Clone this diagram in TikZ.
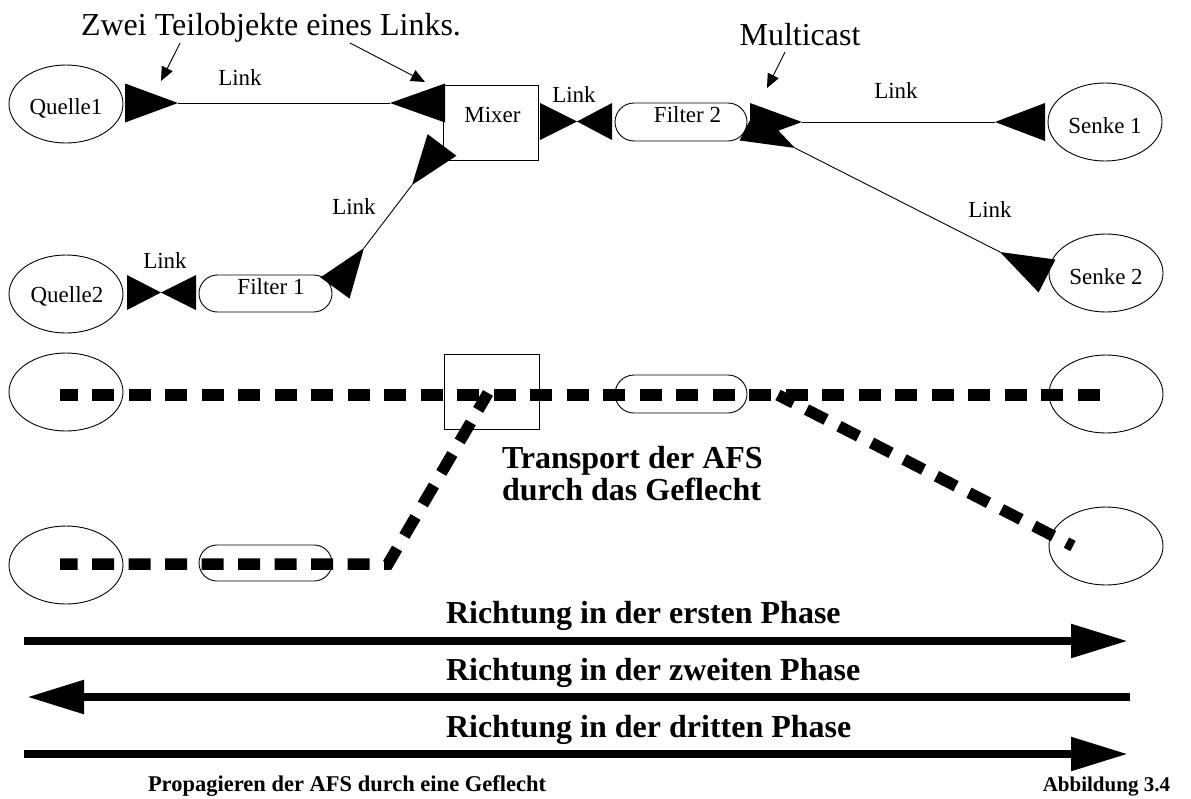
\documentclass[tikz,border=0pt]{standalone}
\usepackage{fontspec}
\setmainfont{Liberation Serif}
\usetikzlibrary{shapes.geometric,shapes.misc,arrows.meta,calc}

% filled triangle: base centre #1, tip #2, half base width #3
\newcommand\teil[3]{\fill ($(#1)!#3!90:(#2)$) -- (#2) -- ($(#1)!#3!-90:(#2)$) -- cycle;}

\begin{document}
\begin{tikzpicture}[x=1pt,y=-1pt,
  every node/.style={inner sep=0pt, outer sep=0pt},
  lbl/.style={font=\fontsize{23}{27}\selectfont, anchor=base},
  big/.style={font=\fontsize{32}{36}\selectfont, anchor=base},
  bigbf/.style={font=\fontsize{32}{36}\selectfont\bfseries, anchor=base west},
  smallbf/.style={font=\fontsize{21}{25}\selectfont\bfseries},
  oval/.style={draw, ellipse, minimum width=114pt, minimum height=78pt, line width=0.9pt},
  box/.style={draw, rectangle, minimum width=95pt, minimum height=75pt, line width=0.9pt},
  pill/.style={draw, rounded rectangle, minimum width=132pt, minimum height=38pt, line width=0.9pt},
  conn/.style={line width=0.9pt},
  pointer/.style={line width=0.9pt, -{Triangle[length=14pt,width=12pt]}},
  flow/.style={line width=11.5pt, dash pattern=on 22pt off 14.5pt, dash phase=4.5pt, miter limit=10},
  phase/.style={line width=8.5pt, -{Triangle[length=57pt,width=32pt]}}
]
\useasboundingbox (0,0) rectangle (1191,798);

% ---------- upper network ----------
\node[oval] (q1) at (66,104) {};
\node[oval] (q2) at (66,294) {};
\node[box]  (mix) at (491,122.5) {};
\node[pill] (f2) at (681,122) {};
\node[pill, minimum width=133pt, minimum height=37pt] (f1) at (265.5,293.5) {};
\node[oval] (s1) at (1105,122) {};
\node[oval] (s2) at (1106,273) {};

\node[lbl] (q1t) at (66,114) {Quelle1};
\node[lbl] (q2t) at (67,302) {Quelle2};
\node[lbl] (mixt) at (492.5,122.3) {Mixer};
\node[lbl] (f2t) at (687.5,122.7) {Filter 2};
\node[lbl] (f1t) at (271,294) {Filter 1};
\node[lbl] (s1t) at (1105,133) {Senke 1};
\node[lbl] (s2t) at (1106,284) {Senke 2};

% link Quelle1 -- Mixer
\coordinate (aL) at (125,103);  \coordinate (aLt) at (178,103);
\coordinate (aR) at (445,103);  \coordinate (aRt) at (390,103);
\teil{aL}{aLt}{19.5pt} \teil{aR}{aRt}{19.5pt}
\draw[conn] (aLt) -- (aRt);
\node[lbl] (la) at (240,85) {Link};

% link Mixer -- Filter 2
\coordinate (bL) at (540,121.5); \coordinate (bT) at (577,121.5); \coordinate (bR) at (612,121.5);
\teil{bL}{bT}{18.5pt} \teil{bR}{bT}{18.5pt}
\node[lbl] (lb) at (574,102) {Link};

% link Filter 2 -- Senke 1
\coordinate (cL) at (750,122);  \coordinate (cLt) at (802,122);
\coordinate (cR) at (1045,122); \coordinate (cRt) at (995,122);
\teil{cL}{cLt}{19pt} \teil{cR}{cRt}{19pt}
\draw[conn] (cLt) -- (cRt);
\node[lbl] (lc) at (896,98) {Link};

% link Filter 2 -- Senke 2
\coordinate (dL) at (748,124);  \coordinate (dLt) at (795,148);
\coordinate (dR) at (1047,276); \coordinate (dRt) at (1000,252);
\teil{dL}{dLt}{18.5pt} \teil{dR}{dRt}{18.5pt}
\draw[conn] (dLt) -- (dRt);
\node[lbl] (ld) at (990,217) {Link};

% link Filter 1 -- Mixer
\coordinate (eL) at (335,288);  \coordinate (eLt) at (364,248);
\coordinate (eR) at (442,145);  \coordinate (eRt) at (412,185);
\teil{eL}{eLt}{18pt} \teil{eR}{eRt}{18pt}
\draw[conn] (eLt) -- (eRt);
\node[lbl] (le) at (354,214) {Link};

% link Quelle2 -- Filter 1
\coordinate (fL) at (127,292.5); \coordinate (fT) at (161,292.5); \coordinate (fR) at (196,292.5);
\teil{fL}{fT}{17.5pt} \teil{fR}{fT}{17.5pt}
\node[lbl] (lf) at (165,268) {Link};

% annotations
\node[big] (zwei) at (271,35) {Zwei Teilobjekte eines Links.};
\coordinate (z1s) at (180,43); \coordinate (z1e) at (161,81);
\coordinate (z2s) at (350,43); \coordinate (z2e) at (425,82);
\draw[pointer] (z1s) -- (z1e);
\draw[pointer] (z2s) -- (z2e);
\node[big] (multi) at (800,45) {Multicast};
\coordinate (m1s) at (785,52); \coordinate (m1e) at (767,88);
\draw[pointer] (m1s) -- (m1e);

% ---------- lower network: transport ----------
\node[oval] (q1b) at (66,392) {};
\node[oval] (q2b) at (66,565) {};
\node[box]  (mixb) at (492,391.5) {};
\node[pill] (f2b) at (681,394) {};
\node[pill, minimum width=133pt, minimum height=36pt] (f1b) at (265.5,563) {};
\node[oval] (s1b) at (1106,394) {};
\node[oval] (s2b) at (1106,546) {};

\coordinate (t1s) at (60,395);  \coordinate (t1e) at (1100,395);
\coordinate (t2s) at (60,564);  \coordinate (t2k) at (388,564); \coordinate (t2e) at (488,393);
\coordinate (t3s) at (778,395); \coordinate (t3e) at (1073,546);
\draw[flow] (t1s) -- (t1e);
\draw[flow] (t2s) -- (t2k) -- (t2e);
\draw[flow] (t3s) -- (t3e);

\node[bigbf] (tr1) at (502,468) {Transport der AFS};
\node[bigbf] (tr2) at (502,500) {durch das Geflecht};

% ---------- phase directions ----------
\coordinate (r1s) at (24,641);   \coordinate (r1e) at (1128,641);
\coordinate (r2s) at (1130,697); \coordinate (r2e) at (27,697);
\coordinate (r3s) at (24,754);   \coordinate (r3e) at (1128,754);
\draw[phase] (r1s) -- (r1e);
\draw[phase] (r2s) -- (r2e);
\draw[phase] (r3s) -- (r3e);
\node[bigbf] (ph1) at (446,623) {Richtung in der ersten Phase};
\node[bigbf] (ph2) at (446,680) {Richtung in der zweiten Phase};
\node[bigbf] (ph3) at (446,737) {Richtung in der dritten Phase};

\node[smallbf, font=\fontsize{22.5}{26}\selectfont\bfseries, anchor=base west] (cap) at (148,791) {Propagieren der AFS durch eine Geflecht};
\node[smallbf, anchor=base east] (fig) at (1170,791) {Abbildung 3.4};
\end{tikzpicture}
\end{document}
